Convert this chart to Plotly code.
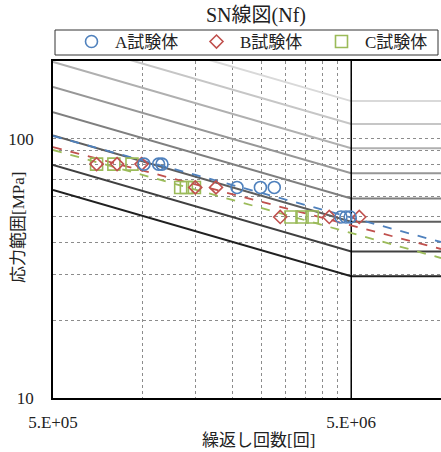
import plotly.graph_objects as go

# ---- data ----
# test results
N_A = [1.01e6, 1.13e6, 1.16e6, 2.07e6, 2.48e6, 2.76e6, 4.62e6, 4.80e6, 4.96e6]
S_A = [80, 80, 80, 65, 65, 65, 50, 50, 50]
N_B = [7.0e5, 8.2e5, 9.9e5, 1.50e6, 1.76e6, 2.89e6, 4.22e6, 5.32e6]
S_B = [80, 80, 80, 65, 65, 50, 50, 50]
N_C = [7.0e5, 8.0e5, 9.2e5, 1.34e6, 1.40e6, 1.49e6, 3.14e6, 3.42e6, 3.70e6]
S_C = [80, 80, 80, 65, 65, 65, 50, 50, 50]

# power trendlines (values at the ends of the axis)
TREND_N = [5e5, 1e7]
TREND_A = [102.7, 40.0]
TREND_B = [93.1, 37.6]
TREND_C = [90.7, 34.7]

# design S-N curves: stress range at 5e5, 5e6 and 1e7 cycles
SN_N = [5e5, 5e6, 1e7]
SN_NAMES = ["A", "B", "C", "D", "E", "F", "G", "H"]
SN_S = [
    [301.6, 140.0, 140.0],
    [246.0, 114.2, 114.2],
    [198.4, 92.1, 92.1],
    [158.7, 73.7, 73.7],
    [127.0, 58.9, 58.9],
    [103.2, 47.9, 47.9],
    [79.4, 36.8, 36.8],
    [63.5, 29.5, 29.5],
]
CUT_N = [5e6, 5e6]
CUT_S = [10, 200]

X_TICKS = [5e5, 1e6, 1.5e6, 2e6, 2.5e6, 3e6, 3.5e6, 4e6, 4.5e6, 5e6]
X_TEXT = ["5.E+05", "", "", "", "", "", "", "", "", "5.E+06"]
Y_TICKS = [10, 20, 30, 40, 50, 60, 70, 80, 90, 100]
Y_TEXT = ["10", "", "", "", "", "", "", "", "", "100"]

FONT = "Liberation Serif, Times New Roman, Noto Sans CJK JP"
SN_COLORS = ["#d9d9d9", "#c6c6c6", "#b0b0b0", "#979797", "#7f7f7f",
             "#5e5e5e", "#404040", "#202020"]
BLUE, RED, GREEN = "#4F81BD", "#C0504D", "#9BBB59"

fig = go.Figure()

for name, s, c in zip(SN_NAMES, SN_S, SN_COLORS):
    fig.add_trace(go.Scatter(x=SN_N, y=s, mode="lines", name=name,
                             line=dict(color=c, width=2), showlegend=False,
                             hoverinfo="skip"))

fig.add_trace(go.Scatter(x=CUT_N, y=CUT_S, mode="lines", showlegend=False,
                         line=dict(color="black", width=1.5), hoverinfo="skip"))

for t, c in [(TREND_A, BLUE), (TREND_B, RED), (TREND_C, GREEN)]:
    fig.add_trace(go.Scatter(x=TREND_N, y=t, mode="lines", showlegend=False,
                             line=dict(color=c, width=1.8, dash="dash"),
                             hoverinfo="skip"))

fig.add_trace(go.Scatter(x=N_C, y=S_C, mode="markers", name="C試験体",
                         marker=dict(symbol="square-open", size=12,
                                     color=GREEN, line=dict(width=1.6)),
                         legendrank=3))
fig.add_trace(go.Scatter(x=N_B, y=S_B, mode="markers", name="B試験体",
                         marker=dict(symbol="diamond-open", size=10,
                                     color=RED, line=dict(width=1.6)),
                         legendrank=2))
fig.add_trace(go.Scatter(x=N_A, y=S_A, mode="markers", name="A試験体",
                         marker=dict(symbol="circle-open", size=12,
                                     color=BLUE, line=dict(width=1.6)),
                         legendrank=1))

W_PLOT, H_PLOT = 388, 337

fig.update_layout(
    width=441, height=452,
    margin=dict(l=53, r=0, t=61, b=54, autoexpand=False),
    paper_bgcolor="white", plot_bgcolor="white",
    font=dict(family=FONT, size=17, color="#222"),
    title=dict(text="SN線図(Nf)", x=256 / 441, xanchor="center",
               y=1 - 15 / 452, yanchor="middle", yref="container",
               font=dict(size=20, family=FONT, color="#222")),
    legend=dict(orientation="h", x=(68 - 53) / W_PLOT, xanchor="left",
                y=(398 - 24) / H_PLOT, yanchor="top",
                borderwidth=0, bgcolor="rgba(0,0,0,0)",
                itemwidth=37,
                entrywidth=73, entrywidthmode="pixels",
                font=dict(size=17, family=FONT), traceorder="normal"),
    showlegend=True,
    shapes=[dict(type="rect", xref="paper", yref="paper",
                 x0=(55 - 53) / W_PLOT, x1=(438 - 53) / W_PLOT,
                 y0=(398 - 55) / H_PLOT, y1=(398 - 30) / H_PLOT,
                 line=dict(color="#333", width=1), layer="above")],
)

fig.update_xaxes(type="log", range=[5.69897, 7.0],
                 tickvals=X_TICKS, ticktext=X_TEXT, ticks="",
                 showgrid=True, gridcolor="#8c8c8c", gridwidth=1, griddash="dot",
                 showline=True, linecolor="black", linewidth=1.5, mirror=True,
                 ticklabelstandoff=8, tickfont=dict(size=17), zeroline=False)
fig.update_yaxes(type="log", range=[1.0, 2.30103],
                 tickvals=Y_TICKS, ticktext=Y_TEXT, ticks="",
                 showgrid=True, gridcolor="#8c8c8c", gridwidth=1, griddash="dot",
                 showline=True, linecolor="black", linewidth=1.5, mirror=True,
                 ticklabelstandoff=14, tickfont=dict(size=17), zeroline=False)

fig.add_annotation(text="繰返し回数[回]", xref="paper", yref="paper",
                   x=(258 - 53) / W_PLOT, y=(398 - 440) / H_PLOT,
                   xanchor="center", yanchor="middle", showarrow=False,
                   font=dict(size=17, family=FONT))
fig.add_annotation(text="応力範囲[MPa]", xref="paper", yref="paper",
                   x=(18 - 53) / W_PLOT, y=(398 - 228) / H_PLOT, textangle=-90,
                   xanchor="center", yanchor="middle", showarrow=False,
                   font=dict(size=17, family=FONT))

fig.write_html("out.html", config={"displayModeBar": False},
               post_script="document.body.style.margin='0';"
                           "document.body.style.overflow='hidden';")
